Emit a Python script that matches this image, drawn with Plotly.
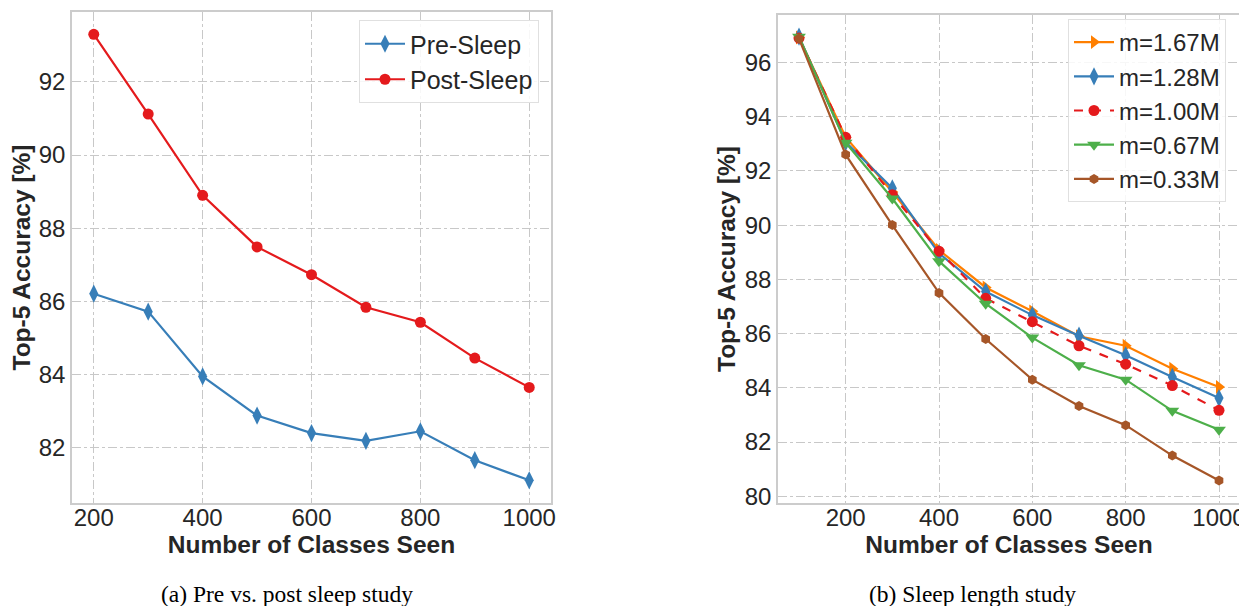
import plotly.graph_objects as go

# ---- data ----
classes_a = [200, 300, 400, 500, 600, 700, 800, 900, 1000]
pre_sleep = [86.21, 85.72, 83.95, 82.88, 82.40, 82.19, 82.45, 81.66, 81.11]
post_sleep = [93.30, 91.12, 88.90, 87.49, 86.73, 85.84, 85.43, 84.45, 83.65]

classes_b = [100, 200, 300, 400, 500, 600, 700, 800, 900, 1000]
m_167 = [96.92, 93.24, 91.22, 89.08, 87.70, 86.82, 85.90, 85.55, 84.70, 84.03]
m_128 = [96.95, 93.06, 91.36, 88.96, 87.55, 86.68, 85.92, 85.20, 84.40, 83.62]
m_100 = [96.90, 93.24, 91.12, 89.04, 87.30, 86.44, 85.55, 84.87, 84.08, 83.17]
m_067 = [96.95, 93.04, 90.98, 88.67, 87.10, 85.85, 84.83, 84.30, 83.15, 82.45]
m_033 = [96.88, 92.60, 90.00, 87.50, 85.80, 84.30, 83.33, 82.62, 81.50, 80.58]

ticks_a_x = [200, 400, 600, 800, 1000]
ticks_a_y = [82, 84, 86, 88, 90, 92]
ticks_b_x = [200, 400, 600, 800, 1000]
ticks_b_y = [80, 82, 84, 86, 88, 90, 92, 94, 96]

BLUE = "#377eb8"
RED = "#e41a1c"
GREEN = "#4daf4a"
ORANGE = "#ff7f00"
BROWN = "#a65628"

FONT = "Liberation Sans, Arial, sans-serif"
TXT = "#262626"
GRID = "#c8c8c8"
FRAME = "#cccccc"

W, H = 1239, 598  # page body has an 8px margin in a 1247x606 window

fig = go.Figure()

def add(x, y, name, color, symbol, xa, ya, legend, dash="solid", size=11):
    fig.add_trace(go.Scatter(
        x=x, y=y, name=name, mode="lines+markers",
        line=dict(color=color, width=2.2, dash=dash),
        marker=dict(color=color, symbol=symbol, size=size, line=dict(width=0)),
        xaxis=xa, yaxis=ya, legend=legend))

add(classes_a, pre_sleep, "Pre-Sleep", BLUE, "diamond-tall", "x", "y", "legend", size=13)
add(classes_a, post_sleep, "Post-Sleep", RED, "circle", "x", "y", "legend", size=11)

add(classes_b, m_167, "m=1.67M", ORANGE, "triangle-right", "x2", "y2", "legend2", size=12)
add(classes_b, m_128, "m=1.28M", BLUE, "diamond-tall", "x2", "y2", "legend2", size=13)
add(classes_b, m_100, "m=1.00M", RED, "circle", "x2", "y2", "legend2", dash="dash", size=11)
add(classes_b, m_067, "m=0.67M", GREEN, "triangle-down", "x2", "y2", "legend2", size=12)
add(classes_b, m_033, "m=0.33M", BROWN, "hexagon", "x2", "y2", "legend2", size=10)

axis_common = dict(
    showgrid=True, gridcolor=GRID, griddash="dashdot", gridwidth=1.3,
    showline=True, linecolor=FRAME, linewidth=1.6, mirror=True,
    zeroline=False, ticks="", automargin=False,
    tickfont=dict(family=FONT, size=24, color=TXT),
)
xtitle = dict(text="<b>Number of Classes Seen</b>",
              font=dict(family=FONT, size=24.5, color=TXT), standoff=2)
ytitle = dict(text="<b>Top-5 Accuracy [%]</b>",
              font=dict(family=FONT, size=24.5, color=TXT), standoff=2)

px = lambda v: v / W
py = lambda v: 1 - v / H

fig.update_layout(
    width=W, height=H,
    margin=dict(l=0, r=0, t=0, b=0),
    paper_bgcolor="white", plot_bgcolor="white",
    showlegend=True,
    xaxis=dict(domain=[px(64), px(543)], range=[160, 1040], tickvals=ticks_a_x,
               anchor="y", title=xtitle, ticklabelstandoff=-8, **axis_common),
    yaxis=dict(domain=[py(495), py(4)], range=[80.49, 93.91], tickvals=ticks_a_y,
               anchor="x", title=ytitle, **axis_common),
    xaxis2=dict(domain=[px(770), px(1232)], range=[55, 1045], tickvals=ticks_b_x,
                anchor="y2", title=xtitle, ticklabelstandoff=-8, **axis_common),
    yaxis2=dict(domain=[py(495), py(7)], range=[79.75, 97.75], tickvals=ticks_b_y,
                anchor="x2", title=ytitle, **axis_common),
    legend=dict(x=px(531), y=py(12), xanchor="right", yanchor="top",
                bgcolor="rgba(255,255,255,0.85)", bordercolor="#e0e0e0", borderwidth=1,
                font=dict(family=FONT, size=25, color=TXT), itemwidth=40,
                tracegroupgap=0),
    legend2=dict(x=px(1218), y=py(11), xanchor="right", yanchor="top",
                 bgcolor="rgba(255,255,255,0.85)", bordercolor="#e0e0e0", borderwidth=1,
                 font=dict(family=FONT, size=24, color=TXT), itemwidth=40,
                 tracegroupgap=0),
    annotations=[
        dict(text="(a) Pre vs. post sleep study", x=px(279), y=py(586),
             xref="paper", yref="paper", showarrow=False, xanchor="center", yanchor="middle",
             font=dict(family="Liberation Serif, Times New Roman, serif", size=23.5, color="black")),
        dict(text="(b) Sleep length study", x=px(964), y=py(586),
             xref="paper", yref="paper", showarrow=False, xanchor="center", yanchor="middle",
             font=dict(family="Liberation Serif, Times New Roman, serif", size=23.5, color="black")),
    ],
)

fig.write_html("out.html")
